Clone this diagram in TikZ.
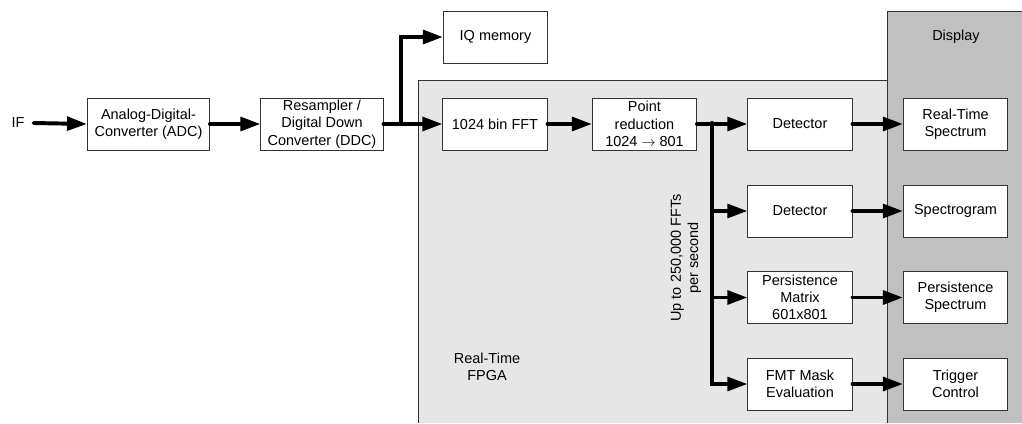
\documentclass[tikz,border=0pt]{standalone}
\usepackage{fontspec}
\setmainfont{Liberation Sans}
\usetikzlibrary{arrows.meta,positioning}

\definecolor{fpgagray}{RGB}{230,230,230}
\definecolor{dispgray}{RGB}{192,192,192}

\begin{document}
\begin{tikzpicture}[x=0.025cm, y=-0.025cm,
        every node/.style={font=\fontsize{10.3}{12.3}\selectfont, align=center},
        blk/.style={draw=black!80, line width=0.7pt, fill=white, minimum width=2.6cm,
                minimum height=1.3cm, inner sep=1pt},
        wideblk/.style={blk, minimum width=3.05cm},
        flow/.style={line width=2.8pt, line cap=round},
        flowarr/.style={flow, -{Triangle[length=0.5cm, width=0.34cm]}}]
        \useasboundingbox (0, 0) rectangle (1022, 423);
        \fill[fpgagray] (418, 80) rectangle (887, 423);
        \fill[dispgray] (887, 11) rectangle (1022, 423);
        \draw[black!80, line width=0.7pt] (418, 423) -- (418, 80) -- (887, 80);
        \draw[black!80, line width=0.7pt] (887, 423) -- (887, 11) -- (1022, 11);
        \node (fpga) at (487, 367) {Real-Time\\FPGA};
        \node (disp) at (956, 37) {Display};

        \node (if) at (18, 123) {IF};
        \node[wideblk] (adc) at (148.5, 124) {Analog-Digital-\\Converter (ADC)};
        \node[wideblk] (ddc) at (322, 124) {Resampler /\\Digital Down\\Converter (DDC)};
        \node[blk] (iq) at (495.5, 37) {IQ memory};
        \node[blk] (fft) at (495, 124) {1024 bin FFT};
        \node[blk] (pr) at (644.5, 124) {Point\\reduction\\1024 $\rightarrow$ 801};

        \node[blk] (det1) at (800, 124) {Detector};
        \node[blk] (det2) at (800, 211) {Detector};
        \node[blk] (pm) at (800, 297.5) {Persistence\\Matrix\\601x801};
        \node[blk] (fmt) at (800, 384) {FMT Mask\\Evaluation};

        \node[blk] (rts) at (955.5, 124) {Real-Time\\Spectrum};
        \node[blk] (spg) at (955.5, 211) {Spectrogram};
        \node[blk] (ps) at (955.5, 297.5) {Persistence\\Spectrum};
        \node[blk] (trig) at (955.5, 384) {Trigger\\Control};

        \node[rotate=90] (rate) at (686, 258) {Up to 250,000 FFTs\\per second};

        \coordinate (split) at (401, 123);
        \coordinate (tap) at (712, 123);

        \draw[flowarr] ([xshift=3pt]if.east) -- (adc.west);
        \draw[flowarr] (adc.east) -- (ddc.west);
        \draw[flowarr] (ddc.east) -- (fft.west);
        \draw[flowarr] (split) |- (iq.west);
        \draw[flowarr] (fft.east) -- (pr.west);
        \draw[flowarr] (pr.east) -- (det1.west);
        \draw[flowarr] (tap) |- (fmt.west);
        \draw[flowarr] (tap |- det2.west) -- (det2.west);
        \draw[flowarr] (tap |- pm.west) -- (pm.west);

        \draw[flowarr] (det1.east) -- (rts.west);
        \draw[flowarr] (det2.east) -- (spg.west);
        \draw[flowarr] (pm.east) -- (ps.west);
        \draw[flowarr] (fmt.east) -- (trig.west);
\end{tikzpicture}
\end{document}
